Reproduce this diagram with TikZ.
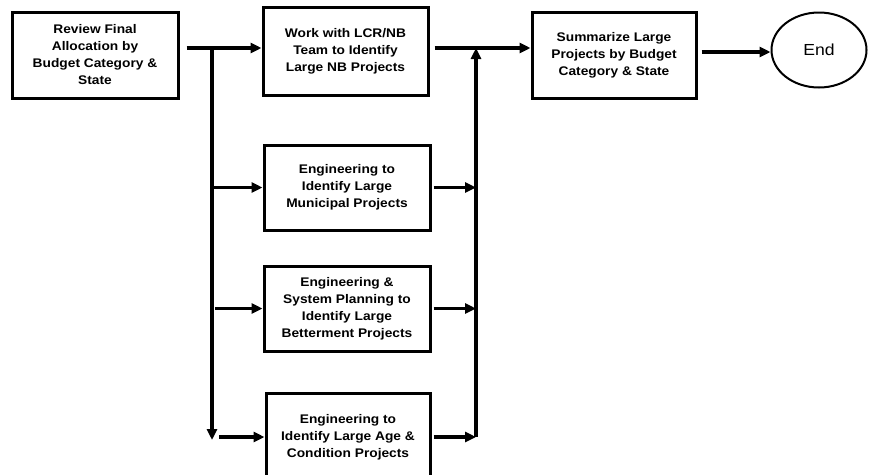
\documentclass[tikz,border=0pt]{standalone}
\usepackage{fontspec}
\setmainfont{Liberation Sans}[FakeStretch=1.1]
\usetikzlibrary{arrows.meta,shapes.geometric}

\tikzset{
    stepbox/.style={draw=black, line width=3pt, align=center, inner sep=2pt,
        font=\bfseries\fontsize{12.5}{17}\selectfont},
    flow/.style={line width=3.5pt, -{Triangle[length=11pt,width=10pt]}}
}

\begin{document}
\begin{tikzpicture}[x=1pt, y=-1pt]
    \useasboundingbox (0,0) rectangle (869,474);

    % Top row of the flow
    \node(review)[stepbox, minimum width=166pt, minimum height=86pt] at (95,55)
        {Review Final\\Allocation by\\Budget Category \&\\State};
    \node(nb)[stepbox, minimum width=165pt, minimum height=88pt] at (345.5,51)
        {Work with LCR/NB\\Team to Identify\\Large NB Projects};
    \node(summ)[stepbox, minimum width=164pt, minimum height=86pt] at (614,55)
        {Summarize Large\\Projects by Budget\\Category \& State};
    \node(end)[draw=black, line width=2pt, ellipse, minimum width=95pt, minimum height=75pt,
        font=\fontsize{16}{18}\selectfont] at (819,50) {End};

    % Parallel engineering steps
    \node(muni)[stepbox, minimum width=166pt, minimum height=85pt] at (347,187.5)
        {Engineering to\\Identify Large\\Municipal Projects};
    \node(bett)[stepbox, minimum width=166pt, minimum height=85pt] at (347,308.5)
        {Engineering \&\\System Planning to\\Identify Large\\Betterment Projects};
    \node(age)[stepbox, minimum width=164pt, minimum height=88pt] at (348,437)
        {Engineering to\\Identify Large Age \&\\Condition Projects};

    % Split and join points of the two busses
    \coordinate (split) at (212,48);
    \coordinate (splitend) at (212,440);
    \coordinate (join) at (476,48);

    \draw[flow, shorten <=7pt] (review.east |- split) -- (nb.west |- split);
    \draw[flow] (split) -- (splitend);
    \foreach \b/\gap in {muni/0pt, bett/3pt, age/7pt} {
        \draw[flow, shorten <=\gap] (split |- \b.west) -- (\b.west);
        \draw[flow, shorten <=2pt] (\b.east) -- (join |- \b.east);
    }
    \draw[flow] (join |- age.east) -- (join);

    \draw[flow, shorten <=5pt] (nb.east |- join) -- (summ.west |- join);
    \draw[flow, shorten <=4pt] (summ.east |- 0,52) -- (end.west |- 0,52);
\end{tikzpicture}
\end{document}
